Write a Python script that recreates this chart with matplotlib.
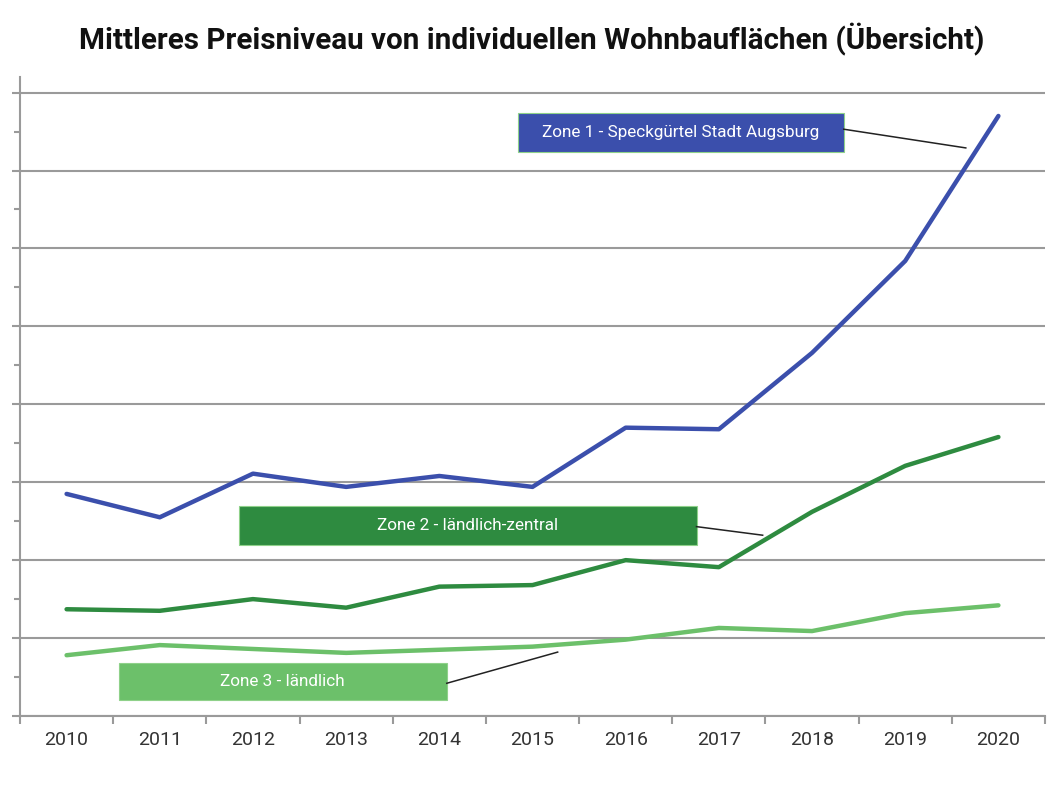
"""Mittleres Preisniveau - Wohnbauflächen, Übersicht nach Zonen."""
import numpy as np
import matplotlib.pyplot as plt
from matplotlib.patches import Rectangle

plt.rcParams['font.family'] = ['Roboto', 'DejaVu Sans']

years = ["2010", "2011", "2012", "2013", "2014", "2015",
         "2016", "2017", "2018", "2019", "2020"]
zone1 = [2.85, 2.55, 3.11, 2.94, 3.08, 2.94, 3.70, 3.68, 4.66, 5.84, 7.70]
zone2 = [1.37, 1.35, 1.50, 1.39, 1.66, 1.68, 2.00, 1.91, 2.62, 3.21, 3.58]
zone3 = [0.78, 0.91, 0.86, 0.81, 0.85, 0.89, 0.98, 1.13, 1.09, 1.32, 1.42]
names = ["Zone 1 - Speckgürtel Stadt Augsburg",
         "Zone 2 - ländlich-zentral",
         "Zone 3 - ländlich"]

colors = ["#3b4fac", "#2e8b40", "#6cc06a"]
# label boxes: (x0, x1, y0, y1), leader line (x_from, y_from, x_to, y_to)
boxes = [(4.84, 8.34, 7.24, 7.74), (1.85, 6.76, 2.20, 2.70), (0.56, 4.08, 0.21, 0.68)]
leaders = [(8.34, 7.53, 9.65, 7.29), (6.76, 2.43, 7.47, 2.32), (4.08, 0.42, 5.27, 0.82)]

fig = plt.figure(figsize=(10.64, 7.91), dpi=100)
ax = fig.add_axes([20 / 1064, 75 / 791, 1025 / 1064, 639 / 791])

x = np.arange(len(years))
for vals, c in zip([zone1, zone2, zone3], colors):
    ax.plot(x, vals, color=c, lw=3.2, solid_capstyle="round", zorder=3)

for name, c, (x0, x1, y0, y1), (lx0, ly0, lx1, ly1) in zip(names, colors, boxes, leaders):
    ax.add_patch(Rectangle((x0, y0), x1 - x0, y1 - y0, facecolor=c,
                           edgecolor="#8fd18a", lw=0.8, zorder=4))
    ax.text((x0 + x1) / 2, (y0 + y1) / 2, name, color="white", fontsize=12.3,
            ha="center", va="center", zorder=5)
    ax.plot([lx0, lx1], [ly0, ly1], color="#222222", lw=1.1, zorder=4)

ax.set_xlim(-0.5, 10.5)
ax.set_ylim(0, 8.2)
ax.set_yticks(np.arange(0, 9, 1))
ax.set_yticks(np.arange(0.5, 8.5, 1), minor=True)
ax.set_yticklabels([])
ax.yaxis.grid(True, which="major", color="#9a9a9a", lw=1.5)
ax.tick_params(axis="y", which="major", length=6, color="#9a9a9a", width=1.5)
ax.tick_params(axis="y", which="minor", length=4, color="#9a9a9a", width=1.5)

ax.set_xticks(x)
ax.set_xticklabels(years, fontsize=14, color="#333333")
ax.set_xticks(np.arange(-0.5, 11, 1), minor=True)
ax.tick_params(axis="x", which="major", length=0, pad=11)
ax.tick_params(axis="x", which="minor", length=6, color="#9a9a9a", width=1.5)

for s in ["top", "right"]:
    ax.spines[s].set_visible(False)
for s in ["left", "bottom"]:
    ax.spines[s].set_color("#9a9a9a")
    ax.spines[s].set_linewidth(1.5)

fig.text(0.5, 1 - 40 / 791, "Mittleres Preisniveau von individuellen Wohnbauflächen (Übersicht)",
         ha="center", va="center", fontsize=21.3, fontweight="bold", color="#111111")

fig.savefig("out.png", dpi=100)
